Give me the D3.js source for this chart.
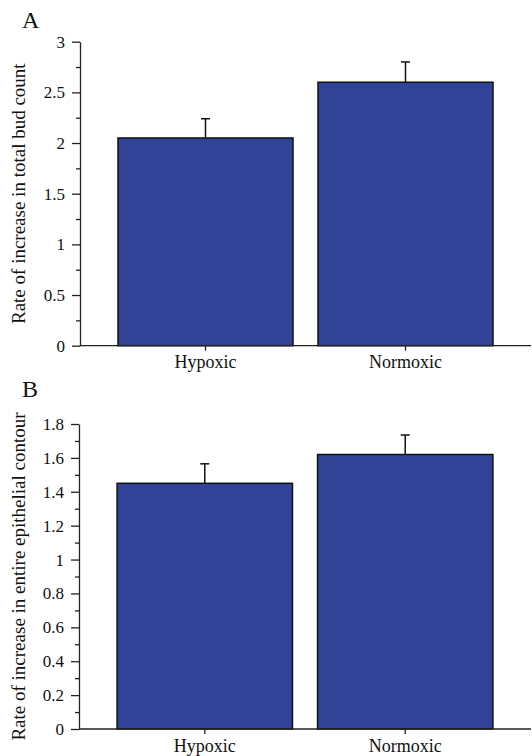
<!DOCTYPE html>
<html>
<head>
<meta charset="utf-8">
<script src="https://cdn.jsdelivr.net/npm/d3@7"></script>
<style>
  body { margin: 0; background: #fff; }
  svg text { font-family: "Liberation Serif", "Times New Roman", serif; fill: #111; }
</style>
</head>
<body>
<svg id="chart" width="532" height="756"></svg>
<script>
// categories shared by both panels
const categories = ['Hypoxic', 'Normoxic'];

// panel A: total bud count
const budValues = [2.05, 2.60];
const budErrors = [0.19, 0.20];
const budTicks = [0, 0.5, 1, 1.5, 2, 2.5, 3];

// panel B: entire epithelial contour
const contourValues = [1.45, 1.62];
const contourErrors = [0.115, 0.115];
const contourTicks = [0, 0.2, 0.4, 0.6, 0.8, 1, 1.2, 1.4, 1.6, 1.8];

const barColor = '#314396';
const svg = d3.select('#chart');

function drawPanel(opts) {
  const { letter, letterY, values, errors, ticks, minorStep, yMax, top, bottom, axisX, title } = opts;

  const g = svg.append('g');

  const x = d3.scaleBand()
    .domain(categories)
    .range([axisX, 531])
    .paddingInner(0.125)
    .paddingOuter(0.19);

  const y = d3.scaleLinear().domain([0, yMax]).range([bottom, top]);

  // panel letter
  g.append('text')
    .attr('x', 22)
    .attr('y', letterY)
    .attr('font-size', 24)
    .text(letter);

  // bars
  g.selectAll('.bar')
    .data(values)
    .join('rect')
    .attr('class', 'bar')
    .attr('x', (d, i) => x(categories[i]))
    .attr('y', d => y(d))
    .attr('width', x.bandwidth())
    .attr('height', d => y(0) - y(d))
    .attr('fill', barColor)
    .attr('stroke', '#111')
    .attr('stroke-width', 1.5);

  // error bars (upper only)
  const err = g.selectAll('.err')
    .data(values)
    .join('g')
    .attr('class', 'err')
    .attr('transform', (d, i) => `translate(${x(categories[i]) + x.bandwidth() / 2},0)`);
  err.append('line')
    .attr('y1', d => y(d))
    .attr('y2', (d, i) => y(d + errors[i]))
    .attr('stroke', '#111')
    .attr('stroke-width', 1.5);
  err.append('line')
    .attr('x1', -4.5)
    .attr('x2', 4.5)
    .attr('y1', (d, i) => y(d + errors[i]))
    .attr('y2', (d, i) => y(d + errors[i]))
    .attr('stroke', '#111')
    .attr('stroke-width', 1.5);

  // minor ticks
  const minor = d3.range(0, yMax + 1e-9, minorStep).filter(v => !ticks.some(t => Math.abs(t - v) < 1e-9));
  g.append('g')
    .attr('transform', `translate(${axisX},0)`)
    .call(d3.axisLeft(y).tickValues(minor).tickSize(4).tickFormat(''))
    .call(a => a.select('.domain').remove())
    .call(a => a.selectAll('line').attr('stroke', '#222').attr('stroke-width', 1.3));

  // y axis
  g.append('g')
    .attr('transform', `translate(${axisX},0)`)
    .call(d3.axisLeft(y).tickValues(ticks).tickSize(8).tickSizeOuter(0).tickPadding(7).tickFormat(d => String(d)))
    .call(a => a.select('.domain').attr('stroke', '#222').attr('stroke-width', 1.3))
    .call(a => a.selectAll('line').attr('stroke', '#222').attr('stroke-width', 1.3))
    .call(a => a.selectAll('text').attr('font-size', 17).attr('font-family', null));

  // x axis
  g.append('g')
    .attr('transform', `translate(0,${bottom})`)
    .call(d3.axisBottom(x).tickSize(5).tickSizeOuter(0).tickPadding(5))
    .call(a => a.select('.domain').attr('d', `M${axisX},0H531`).attr('stroke', '#222').attr('stroke-width', 1.3))
    .call(a => a.selectAll('line').attr('stroke', '#222').attr('stroke-width', 1.3))
    .call(a => a.selectAll('text').attr('font-size', 18).attr('font-family', null));

  // y axis title
  g.append('text')
    .attr('transform', `translate(25,${(top + bottom) / 2}) rotate(-90)`)
    .attr('text-anchor', 'middle')
    .attr('font-size', 19)
    .text(title);
}

drawPanel({
  letter: 'A', letterY: 28,
  values: budValues, errors: budErrors, ticks: budTicks,
  minorStep: 0.25, yMax: 3, top: 41.7, bottom: 345.7, axisX: 80,
  title: 'Rate of increase in total bud count'
});

drawPanel({
  letter: 'B', letterY: 397,
  values: contourValues, errors: contourErrors, ticks: contourTicks,
  minorStep: 0.1, yMax: 1.8, top: 424, bottom: 729, axisX: 79,
  title: 'Rate of increase in entire epithelial contour'
});
</script>
</body>
</html>
